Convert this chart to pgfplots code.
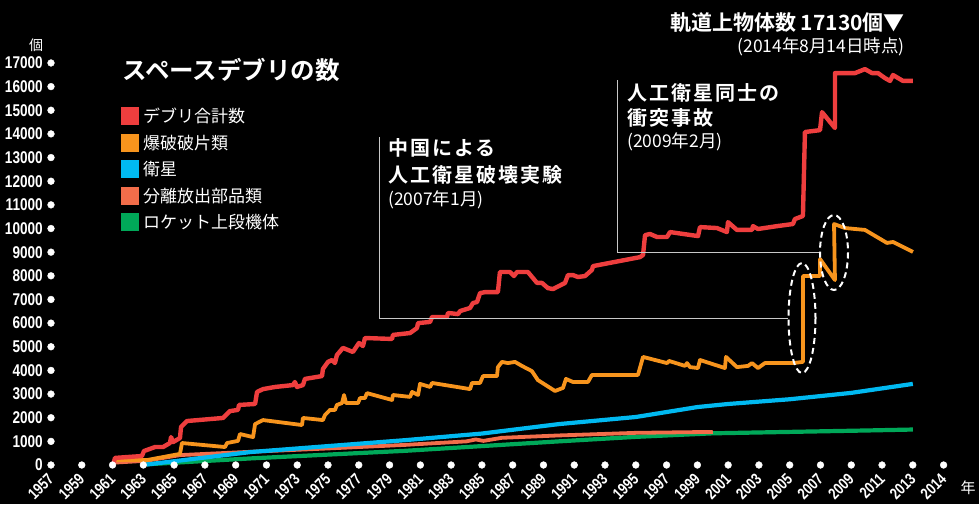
\documentclass[border=0pt]{standalone}
\usepackage{fontspec}
\usepackage{pgfplots}
\pgfplotsset{compat=1.18}
\usetikzlibrary{backgrounds}

\setmainfont{Noto Sans CJK JP}[BoldFont={Noto Sans CJK JP Bold}]
\newfontfamily\jpb{Noto Sans CJK JP Bold}
\newfontfamily\jpbs{Noto Sans CJK JP Bold}[LetterSpace=10]
\newfontfamily\numf{Liberation Sans}[FakeStretch=0.8]

\definecolor{cTotal}{HTML}{EE3E3E}
\definecolor{cFrag}{HTML}{F7941D}
\definecolor{cSat}{HTML}{00B9F1}
\definecolor{cPart}{HTML}{F26D4A}
\definecolor{cRocket}{HTML}{00A859}
\definecolor{cGuide}{HTML}{C8C8C8}

\begin{document}
\begin{tikzpicture}[show background rectangle, inner frame sep=0pt,
  background rectangle/.style={fill=black, draw=none}]
\begin{axis}[
    at={(51pt,-465pt)}, anchor=south west,
    scale only axis,
    width=892.6pt, height=402.05pt,
    xmin=1957, xmax=2015, ymin=0, ymax=17000,
    clip=false,
    axis line style={draw=none},
    major tick length=0pt,
    tick style={draw=none},
    scaled y ticks=false,
    xtick={1957,1959,...,2015},
    xticklabels={1957,1959,1961,1963,1965,1967,1969,1971,1973,1975,1977,1979,1981,1983,1985,1987,1989,1991,1993,1995,1997,1999,2001,2003,2005,2007,2009,2011,2013,2014},
    ytick={0,1000,...,17000},
    /pgf/number format/assume math mode=true,
    /pgf/number format/1000 sep={},
    xticklabel style={yshift=-11pt, rotate=45, anchor=east, inner sep=0pt,
      text=white, font=\numf\bfseries\fontsize{16}{16}\selectfont},
    yticklabel style={anchor=east, inner sep=0pt, xshift=-8pt,
      text=white, font=\numf\bfseries\fontsize{17}{17}\selectfont},
    line join=round,
]
% ロケット上段機体
\addplot[cRocket, line width=4.2pt] coordinates {
(1963.2,30) (1970,280) (1975,440) (1980,600) (1985,800) (1990,1000)
(1995,1190) (2000,1340) (2005,1400) (2010,1460) (2013,1500)
};
% 分離放出部品類
\addplot[cPart, line width=3.8pt] coordinates {
(1961.1,100) (1963.2,180) (1965.4,420) (1970,560) (1975,700) (1980,850)
(1984,1000) (1984.6,1080) (1985.1,1020) (1986.3,1150) (1990,1250)
(1995,1360) (2000,1400)
};
% 衛星
\addplot[cSat, line width=4.2pt] coordinates {
(1963.2,20) (1970,550) (1975,800) (1980,1050) (1985,1330) (1990,1730)
(1995,2030) (1999,2450) (2001,2580) (2005,2780) (2009,3050) (2013,3430)
};
% 爆破破片類
\addplot[cFrag, line width=3.8pt] coordinates {
(1961.16,210) (1963.24,210) (1965.38,470) (1965.51,930) (1968.31,760)
(1968.44,930) (1969.15,1020) (1969.28,1310) (1970.13,1180) (1970.26,1730)
(1970.78,1900) (1973.31,1690) (1973.37,1990) (1974.67,1900) (1974.80,2110)
(1975.13,2330) (1975.45,2330) (1975.58,2540) (1975.91,2620) (1976.04,2960)
(1976.17,2620) (1976.95,2620) (1977.08,2830) (1977.40,2830) (1977.53,3040)
(1979.16,2750) (1979.22,2960) (1980.33,2880) (1980.46,3090) (1980.85,2960)
(1980.98,3430) (1981.63,3300) (1981.76,3470) (1984.23,3210) (1984.36,3470)
(1984.88,3470) (1985.07,3760) (1985.98,3760) (1986.04,4140) (1986.30,4360)
(1986.69,4310) (1987.15,4360) (1987.60,4190) (1988.25,3970) (1988.64,3590)
(1989.75,3130) (1990.27,3260) (1990.46,3640) (1990.92,3510) (1991.89,3510)
(1992.15,3810) (1995.14,3810) (1995.47,4570) (1997.03,4310) (1997.16,4400)
(1998.20,4190) (1998.33,4310) (1998.52,4140) (1999.04,4100) (1999.17,4440)
(2000.79,4100) (2000.86,4570) (2001.57,4140) (2002.29,4190) (2002.55,4310)
(2002.94,4100) (2003.39,4310) (2005.21,4310) (2005.86,4360) (2005.86,7990)
(2006.97,7990) (2006.97,8710) (2007.94,7820) (2007.88,10190) (2008.59,10020)
(2009.89,9940) (2011.32,9390) (2011.71,9430) (2013.01,9010)
};
% デブリ合計数
\addplot[cTotal, line width=4.4pt] coordinates {
(1961.03,0) (1961.16,300) (1962.91,380) (1963.04,590) (1963.76,760)
(1964.28,760) (1964.73,930) (1964.80,1180) (1964.93,970) (1965.38,1140)
(1965.45,1610) (1965.84,1860) (1968.18,1990) (1968.63,2280) (1969.15,2330)
(1969.22,2540) (1970.26,2580) (1970.39,3090) (1970.78,3210) (1971.56,3300)
(1972.72,3380) (1972.85,3510) (1972.98,3300) (1973.37,3380) (1973.50,3640)
(1974.61,3760) (1974.67,4060) (1975.00,4360) (1975.26,4440) (1975.45,4310)
(1975.58,4650) (1975.97,4950) (1976.62,4780) (1977.01,5160) (1977.27,5030)
(1977.40,5370) (1979.16,5330) (1979.22,5500) (1980.33,5580) (1980.78,5790)
(1980.85,6000) (1981.63,6050) (1981.76,6260) (1982.73,6260) (1982.80,6430)
(1983.45,6380) (1983.58,6510) (1984.23,6640) (1984.42,6850) (1984.68,6890)
(1984.88,7270) (1985.20,7310) (1986.04,7310) (1986.17,8160) (1986.82,8160)
(1987.08,7990) (1987.28,8160) (1987.99,8160) (1988.58,7700) (1988.90,7700)
(1989.29,7480) (1989.62,7440) (1990.40,7700) (1990.59,8030) (1990.92,8030)
(1991.24,7950) (1991.70,7990) (1992.15,8250) (1992.22,8410) (1995.27,8790)
(1995.47,8880) (1995.60,9720) (1995.92,9770) (1996.38,9640) (1997.03,9640)
(1997.22,9850) (1999.04,9680) (1999.17,10060) (2000.27,10020) (2000.92,9850)
(2000.99,10270) (2001.57,9940) (2002.55,9940) (2002.61,10100) (2002.94,9980)
(2004.17,10100) (2005.21,10190) (2005.34,10400) (2005.86,10530) (2005.99,14080)
(2006.97,14160) (2007.10,14920) (2007.94,14250) (2007.94,16570) (2009.24,16570)
(2009.89,16740) (2010.35,16570) (2010.74,16570) (2011.19,16360) (2011.52,16240)
(2011.71,16490) (2012.36,16240) (2013.01,16240)
};
% tick dots
\addplot[only marks, mark=*, white, mark size=3.4pt] coordinates {
(1957,0) (1959,0) (1961,0) (1963,0) (1965,0) (1967,0) (1969,0) (1971,0)
(1973,0) (1975,0) (1977,0) (1979,0) (1981,0) (1983,0) (1985,0) (1987,0)
(1989,0) (1991,0) (1993,0) (1995,0) (1997,0) (1999,0) (2001,0) (2003,0)
(2005,0) (2007,0) (2009,0) (2011,0) (2013,0) (2015,0)
(1957,1000) (1957,2000) (1957,3000) (1957,4000) (1957,5000) (1957,6000)
(1957,7000) (1957,8000) (1957,9000) (1957,10000) (1957,11000) (1957,12000)
(1957,13000) (1957,14000) (1957,15000) (1957,16000) (1957,17000)
};
\end{axis}

\begin{scope}[x=1pt, y=-1pt, every node/.style={text=white, inner sep=0pt}]
\path (0,0) rectangle (979,504);
% units
\node at (36,45) {\fontsize{14}{14}\selectfont 個};
\node at (968,488) {\fontsize{15}{15}\selectfont 年};
% title
\node[anchor=west] at (122,70) {\jpb\fontsize{24.5}{26}\selectfont スペースデブリの数};
% legend
\foreach \c/\t [count=\i from 0] in {cTotal/デブリ合計数, cFrag/爆破破片類,
    cSat/衛星, cPart/分離放出部品類, cRocket/ロケット上段機体} {
  \fill[\c] (121,{107+26.6*\i}) rectangle (139,{125+26.6*\i});
  \node[anchor=west] at (143,{116+26.6*\i}) {\fontsize{17}{17}\selectfont\t};
}
% guides
\draw[cGuide, line width=1pt] (379,137) -- (379,318) -- (788,318);
\draw[cGuide, line width=1pt] (617,80) -- (617,252) -- (821,252);
\draw[white, line width=2pt, dash pattern=on 6pt off 4pt] (802,318) ellipse [x radius=13.5, y radius=55];
\draw[white, line width=2pt, dash pattern=on 6pt off 4pt] (834,252.5) ellipse [x radius=14, y radius=37.5];
% annotations
\node[anchor=west] at (388,148) {\jpbs\fontsize{20}{20}\selectfont 中国による};
\node[anchor=west] at (388,175) {\jpbs\fontsize{20}{20}\selectfont 人工衛星破壊実験};
\node[anchor=west] at (388,200) {\fontsize{17.5}{17.5}\selectfont (2007年1月)};
\node[anchor=west] at (627,93) {\jpbs\fontsize{20}{20}\selectfont 人工衛星同士の};
\node[anchor=west] at (627,118) {\jpbs\fontsize{20}{20}\selectfont 衝突事故};
\node[anchor=west] at (627,142) {\fontsize{17.5}{17.5}\selectfont (2009年2月)};
\node[anchor=east] at (905,23) {\jpb\fontsize{21}{21}\selectfont 軌道上物体数 17130個▼};
\node[anchor=east] at (905,47) {\fontsize{17.5}{17.5}\selectfont (2014年8月14日時点)};
\end{scope}
\end{tikzpicture}
\end{document}
